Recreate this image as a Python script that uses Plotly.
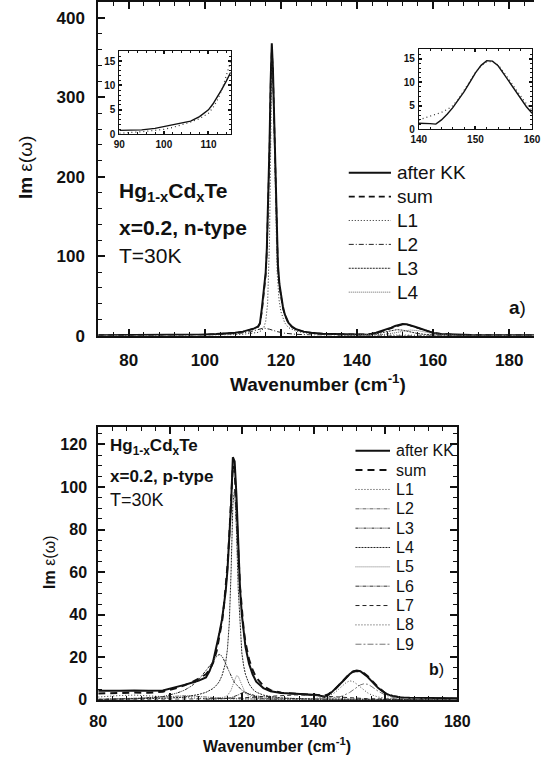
import plotly.graph_objects as go

W, H = 547, 770
FONT = "Liberation Sans"

# ---------------- panel a) data ----------------
a_x = [72, 80, 90, 95, 100, 103, 106, 108, 110, 112, 113, 114, 114.5, 115, 115.5, 116, 116.3,
       116.7, 117.0, 117.3, 117.6, 117.9, 118.2, 118.5, 118.8, 119.2, 119.6, 120, 120.5, 121,
       122, 123, 124, 126, 128, 131, 135, 140, 143, 145, 147, 149, 150, 151, 152, 153, 154,
       155, 156, 158, 160, 162, 165, 170, 175, 180, 187]
a_kk = [0.5, 0.5, 0.6, 0.8, 1.3, 1.9, 2.7, 3.5, 5.0, 7.5, 9.0, 11.5, 16, 35, 55, 80, 110,
        170, 240, 320, 368, 335, 270, 200, 135, 90, 65, 50, 37, 27,
        16, 11, 8, 5, 3.5, 2.3, 1.7, 1.3, 1.1, 3.5, 6.5, 10, 12, 13.6, 14.6, 14.4, 13.2,
        11.5, 9.8, 6.4, 3.4, 2.0, 1.2, 0.7, 0.5, 0.4, 0.3]
a_sum = [0.3, 0.4, 0.5, 0.7, 1.2, 1.8, 2.6, 3.4, 4.8, 7.3, 8.8, 11, 15, 30, 50, 76, 106,
         165, 235, 315, 362, 332, 268, 196, 130, 86, 62, 47, 35, 26,
         15, 10.5, 7.6, 4.8, 3.3, 2.2, 1.6, 1.5, 1.8, 3.2, 6.0, 9.6, 11.6, 13.2, 14.2, 14.0, 12.9,
         11.3, 9.6, 6.5, 3.6, 2.2, 1.2, 0.6, 0.4, 0.3, 0.2]
a_l1_x = [72, 90, 100, 106, 110, 112, 113, 114, 115, 115.5, 116, 116.5, 117, 117.3, 117.6,
          117.9, 118.2, 118.5, 119, 119.5, 120, 121, 122, 124, 126, 130, 140, 160, 187]
a_l1 = [0.1, 0.2, 0.5, 0.9, 1.6, 2.4, 3.0, 4.0, 6.5, 10, 18, 40, 120, 240, 350,
        325, 250, 170, 80, 45, 30, 16, 10, 5.5, 3.5, 1.8, 0.7, 0.3, 0.1]
a_l2_x = [72, 90, 100, 105, 108, 110, 112, 114, 115.5, 117, 119, 121, 124, 128, 135, 150, 187]
a_l2 = [0.1, 0.3, 0.8, 1.5, 2.4, 3.3, 5.0, 8.0, 9.5, 8.0, 5.0, 3.0, 1.6, 0.8, 0.4, 0.15, 0.05]
a_l3_x = [135, 140, 143, 145, 147, 149, 150.5, 152, 154, 156, 158, 160, 165, 175]
a_l3 = [0.2, 0.6, 1.2, 2.2, 4.0, 6.3, 7.5, 6.8, 4.5, 2.5, 1.4, 0.8, 0.3, 0.1]
a_l4_x = [135, 140, 144, 147, 150, 152, 154, 156, 158, 160, 163, 167, 175, 187]
a_l4 = [0.1, 0.3, 0.7, 1.5, 3.5, 5.6, 7.0, 6.2, 4.2, 2.5, 1.2, 0.5, 0.2, 0.1]

# insets of panel a)
in1_x = [90, 92, 95, 98, 100, 102, 104, 106, 108, 110, 111, 112, 113, 114, 115]
in1_kk = [0.8, 0.8, 0.9, 1.2, 1.6, 2.0, 2.4, 2.7, 3.6, 5.0, 6.2, 7.6, 9.2, 10.9, 12.7]
in1_dot = [0.2, 0.3, 0.5, 0.8, 1.0, 1.4, 1.9, 2.5, 3.2, 4.3, 5.4, 7.0, 9.0, 11.8, 15.0]
in2_x = [140, 141, 142, 143, 144, 145, 146, 147, 148, 149, 150, 151, 152, 153, 154,
         155, 156, 157, 158, 159, 160]
in2_kk = [1.3, 1.3, 1.2, 1.1, 2.0, 3.2, 4.6, 6.3, 8.0, 10.0, 12.0, 13.6, 14.6, 14.5, 13.5,
          11.8, 10.0, 8.2, 6.5, 4.8, 3.4]
in2_dot = [2.0, 2.4, 2.8, 3.2, 3.6, 4.2, 5.0, 6.4, 8.2, 10.2, 12.1, 13.5, 14.4, 14.4, 13.7,
           12.2, 10.5, 8.7, 7.0, 5.4, 4.0]

# ---------------- panel b) data ----------------
b_x = [80, 83, 86, 90, 94, 98, 100, 102, 104, 106, 108, 110, 111, 112, 113, 113.7, 114.5,
       115, 115.5, 116, 116.5, 117, 117.5, 118, 118.5, 119, 119.5, 120, 120.5, 121, 122, 123,
       124, 126, 128, 131, 135, 138, 141, 143, 144, 145, 146, 147, 148, 149, 150, 151, 152,
       153, 154, 155, 156, 157, 158, 160, 162, 165, 170, 175, 180]
b_kk = [4.2, 4.1, 4.3, 4.4, 4.2, 4.4, 5.2, 6.0, 7.0, 8.0, 9.0, 10.5, 13.5, 18, 25, 31, 38,
        44, 51, 61, 74, 92, 114, 112, 96, 70, 52, 40, 31, 25, 17, 12,
        8.5, 5.5, 4.0, 3.2, 2.8, 2.6, 2.3, 1.4, 2.2, 3.5, 5.0, 6.8, 8.5, 10.3, 12.0, 13.3, 13.8,
        13.4, 12.3, 10.8, 9.0, 7.2, 5.5, 3.0, 1.6, 1.0, 0.8, 0.7, 0.7]
b_sum = [3.0, 3.0, 3.2, 3.4, 3.3, 3.8, 4.6, 5.6, 6.8, 8.2, 10, 12, 14, 17.5, 23, 29, 37,
         44, 52, 63, 77, 95, 110, 108, 92, 70, 53, 41, 33, 27, 19, 14,
         10.5, 6.5, 4.5, 3.3, 2.7, 2.5, 2.3, 2.0, 2.5, 3.6, 5.0, 6.8, 8.7, 10.6, 12.2, 13.2, 13.5,
         13.3, 12.5, 11.2, 9.5, 7.6, 5.8, 3.1, 1.8, 1.0, 0.6, 0.5, 0.4]
b_l1_x = [80, 83, 86, 90, 94, 98, 100, 102, 104, 106, 108, 110, 115, 120, 130, 150, 180]
b_l1 = [1.3, 1.7, 2.0, 2.2, 2.0, 1.5, 1.3, 1.1, 0.9, 0.8, 0.7, 0.6, 0.45, 0.35, 0.25, 0.15, 0.1]
b_l2_x = [80, 90, 94, 98, 100, 102, 104, 106, 108, 110, 112, 115, 120, 130, 180]
b_l2 = [0.3, 0.6, 0.9, 1.3, 1.6, 1.8, 1.9, 1.8, 1.5, 1.2, 1.0, 0.7, 0.4, 0.2, 0.05]
b_l3_x = [80, 90, 98, 100, 102, 104, 106, 108, 110, 111, 112, 113, 113.7, 114.5, 115, 115.5,
          116, 116.5, 117, 117.5, 118, 118.5, 119, 119.5, 120, 121, 122, 124, 126, 128, 131,
          135, 140, 150, 180]
b_l3 = [0.2, 0.5, 1.5, 2.2, 3.2, 4.5, 6.5, 9.5, 13.5, 15.5, 18, 20.5, 21.3, 20.5, 19, 17,
        15, 13, 11, 9.5, 8, 7, 6, 5.2, 4.5, 3.5, 2.8, 1.8, 1.3, 1.0, 0.7,
        0.5, 0.3, 0.2, 0.05]
b_l4_x = [80, 100, 104, 106, 108, 110, 111, 112, 113, 113.7, 114.5, 115, 115.5, 116, 116.5,
          117, 117.5, 118, 118.5, 119, 119.5, 120, 120.5, 121, 122, 123, 124, 126, 128, 131,
          135, 140, 160, 180]
b_l4 = [0.1, 0.8, 1.3, 1.8, 2.5, 3.5, 4.3, 5.3, 7.0, 8.5, 11.5, 14, 17.5, 24, 36,
        60, 92, 99, 80, 52, 33, 22, 16, 12, 7.5, 5.0, 3.6, 2.2, 1.5, 0.9,
        0.6, 0.4, 0.2, 0.1]
b_l5_x = [110, 114, 115, 116, 117, 117.5, 118, 118.5, 119, 119.5, 120, 120.5, 121, 122, 123,
          124, 126, 130]
b_l5 = [0.3, 0.8, 1.2, 2.0, 4.5, 7.0, 9.5, 11.3, 11.0, 9.0, 6.5, 4.5, 3.0, 1.6, 1.0,
        0.7, 0.4, 0.2]
b_l6_x = [110, 115, 117, 118, 119, 120, 120.5, 121, 122, 123, 124, 126, 128, 131]
b_l6 = [0.2, 0.5, 1.0, 1.5, 2.3, 3.2, 3.5, 3.3, 2.5, 1.7, 1.2, 0.6, 0.4, 0.2]
b_l7_x = [80, 110, 120, 124, 128, 131, 135, 138, 141, 143, 145, 148, 150, 155, 160, 170, 180]
b_l7 = [0.1, 0.4, 0.9, 1.3, 1.8, 2.1, 2.3, 2.2, 1.9, 1.6, 1.3, 1.0, 0.8, 0.5, 0.35, 0.2, 0.1]
b_l8_x = [140, 143, 144, 145, 146, 147, 148, 149, 150, 151, 152, 153, 154, 155, 156, 157,
          158, 160, 162, 165, 170, 180]
b_l8 = [0.5, 1.2, 1.7, 2.5, 3.5, 5.0, 6.6, 8.0, 8.9, 8.6, 7.4, 5.9, 4.5, 3.3, 2.4, 1.8,
        1.3, 0.8, 0.5, 0.3, 0.15, 0.05]
b_l9_x = [140, 145, 146, 147, 148, 149, 150, 151, 152, 153, 154, 155, 156, 157, 158, 160,
          162, 165, 170, 175, 180]
b_l9 = [0.3, 0.8, 1.0, 1.3, 1.8, 2.5, 3.4, 4.6, 6.0, 7.0, 7.5, 7.3, 6.4, 5.2, 4.0, 2.2,
        1.2, 0.6, 0.25, 0.15, 0.1]

a_names = ["after KK", "sum", "L1", "L2", "L3", "L4"]
b_names = ["after KK", "sum", "L1", "L2", "L3", "L4", "L5", "L6", "L7", "L8", "L9"]

# ---------------- styles ----------------
a_styles = [("solid", 2, "#111"), ("6px,4px", 1.6, "#111"), ("1px,2px", 1, "#222"),
            ("5px,2px,1px,2px", 1, "#222"), ("2px,1px", 1, "#222"), ("1px,1px", 1, "#666")]
b_styles = [("solid", 2, "#111"), ("7px,5px", 2, "#111"), ("1px,2px", 1, "#333"),
            ("4px,1px,1px,1px", 1, "#666"), ("3px,1px,1px,1px,1px,1px", 1, "#222"),
            ("2px,1px", 1, "#222"), ("1px,1px", 1, "#777"), ("4px,1px,1px,1px", 1, "#333"),
            ("4px,3px", 1, "#222"), ("1px,2px", 1, "#444"), ("6px,2px,2px,2px", 1, "#777")]


def px_x(p):
    return p / W


def px_y(p):
    return 1 - p / H


fig = go.Figure()


def line_trace(x, y, name, style, xa, ya):
    dash, width, color = style
    fig.add_trace(go.Scatter(
        x=x, y=y, name=name, mode="lines",
        line=dict(color=color, width=width, dash=dash),
        xaxis=xa, yaxis=ya, showlegend=False, hoverinfo="skip"))


a_series = [(a_x, a_kk), (a_x, a_sum), (a_l1_x, a_l1), (a_l2_x, a_l2), (a_l3_x, a_l3), (a_l4_x, a_l4)]
for (xs, ys), name, st in zip(a_series, a_names, a_styles):
    line_trace(xs, ys, name, st, "x", "y")

# insets
line_trace(in1_x, in1_kk, "after KK", ("solid", 1.4, "#111"), "x3", "y3")
line_trace(in1_x, in1_dot, "sum", ("1px,3px", 1.2, "#333"), "x3", "y3")
line_trace(in2_x, in2_kk, "after KK", ("solid", 1.4, "#111"), "x4", "y4")
line_trace(in2_x, in2_dot, "sum", ("1px,3px", 1.2, "#333"), "x4", "y4")

b_series = [(b_x, b_kk), (b_x, b_sum), (b_l1_x, b_l1), (b_l2_x, b_l2), (b_l3_x, b_l3),
            (b_l4_x, b_l4), (b_l5_x, b_l5), (b_l6_x, b_l6), (b_l7_x, b_l7), (b_l8_x, b_l8),
            (b_l9_x, b_l9)]
for (xs, ys), name, st in zip(b_series, b_names, b_styles):
    line_trace(xs, ys, name, st, "x2", "y2")

tick_font_big = dict(family=FONT, size=17, color="#111", weight="bold")
tick_font_b = dict(family=FONT, size=16, color="#111", weight="bold")
tick_font_in = dict(family=FONT, size=10, color="#111", weight="bold")


def ax(domain, rng, dtick, minor, font, mirror, anchor, ticklen=7, standoff=6):
    return dict(domain=domain, range=rng, dtick=dtick, tick0=0, ticks="inside", ticklen=ticklen,
                tickwidth=1.5, tickcolor="#111", showline=True, linecolor="#111", linewidth=2,
                mirror=mirror, showgrid=False, zeroline=False, tickfont=font, anchor=anchor,
                ticklabelstandoff=standoff,
                minor=dict(dtick=minor, ticks="inside", ticklen=max(2, ticklen - 3),
                           tickwidth=1, tickcolor="#111", showgrid=False))


fig.update_layout(
    width=W, height=H, margin=dict(l=0, r=0, t=0, b=0),
    paper_bgcolor="white", plot_bgcolor="white", showlegend=False,
    font=dict(family=FONT, color="#111"),
    xaxis=ax([px_x(93), 1.0], [72, 186.5], 20, 4, tick_font_big, "ticks", "y", standoff=8),
    yaxis=ax([px_y(340), px_y(2)], [0, 420], 100, 20, tick_font_big, False, "x", standoff=8),
    xaxis2=ax([px_x(93), px_x(467)], [80, 180], 20, 4, tick_font_b, "ticks", "y2", standoff=6),
    yaxis2=ax([px_y(709), px_y(433)], [0, 128], 20, 5, tick_font_b, "ticks", "x2", standoff=6),
    xaxis3=ax([px_x(115), px_x(231)], [90, 115], 10, 2, tick_font_in, "ticks", "y3", ticklen=3, standoff=1),
    yaxis3=ax([px_y(136), px_y(52)], [0, 17], 5, 1, tick_font_in, "ticks", "x3", ticklen=3, standoff=1),
    xaxis4=ax([px_x(427), px_x(545)], [140, 160], 10, 2, tick_font_in, "ticks", "y4", ticklen=3, standoff=1),
    yaxis4=ax([px_y(131), px_y(50)], [0, 17], 5, 1, tick_font_in, "ticks", "x4", ticklen=3, standoff=1),
)

for name in ["xaxis3", "yaxis3", "xaxis4", "yaxis4"]:
    fig.layout[name].linewidth = 1


def note(text, x, y, size, xanchor="left", bold=False, angle=0):
    fig.add_annotation(text=text, x=px_x(x), y=px_y(y), xref="paper", yref="paper",
                       xanchor=xanchor, yanchor="middle", showarrow=False, textangle=angle,
                       font=dict(family=FONT, size=size, color="#111",
                                 weight="bold" if bold else "normal"))


def legend_block(names, styles, x0, x1, xt, y_first, gap, size):
    for i, (name, (dash, width, color)) in enumerate(zip(names, styles)):
        yy = y_first + i * gap
        fig.add_shape(type="line", xref="paper", yref="paper",
                      x0=px_x(x0), x1=px_x(x1), y0=px_y(yy), y1=px_y(yy),
                      line=dict(color=color, width=width, dash=dash))
        note(name, xt, yy, size)


# legends (drawn as keys next to the plots)
legend_block(a_names, a_styles, 354, 398, 402, 175, 24.2, 19)
legend_block(b_names, b_styles, 361, 397, 401, 456.7, 19.6, 16)

# panel a) texts
note("Wavenumber (cm<sup>-1</sup>)", 322, 388, 19, xanchor="center", bold=True)
note("<b>Im</b> ε(ω)", 17, 170, 19, xanchor="center", angle=-90)
note("Hg<sub>1-x</sub>Cd<sub>x</sub>Te", 113, 195, 21, bold=True)
note("x=0.2, n-type", 113, 230, 21, bold=True)
note("T=30K", 113, 259, 21)
note("<b>a</b>)", 541, 312, 19, xanchor="right")

# panel b) texts
note("Wavenumber (cm<sup>-1</sup>)", 279, 755, 16, xanchor="center", bold=True)
note("<b>Im</b> ε(ω)", 42, 570, 16, xanchor="center", angle=-90)
note("Hg<sub>1-x</sub>Cd<sub>x</sub>Te", 103, 453, 17, bold=True)
note("x=0.2, p-type", 103, 483, 17, bold=True)
note("T=30K", 103, 507, 18)
note("<b>b</b>)", 455, 678, 16, xanchor="right")

fig.write_html("out.html")
